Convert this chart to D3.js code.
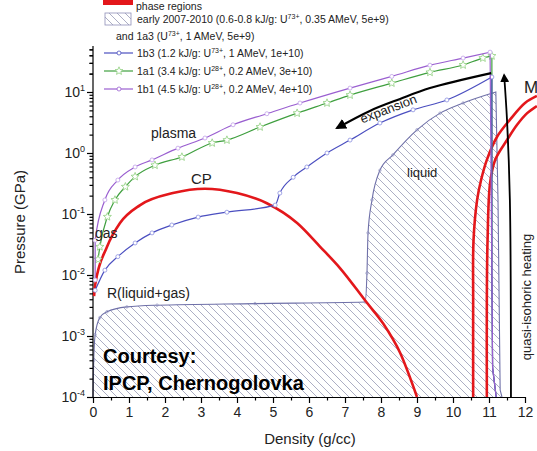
<!DOCTYPE html>
<html lang="en">
<head>
<meta charset="UTF-8">
<script src="https://d3js.org/d3.v7.min.js"></script>
<title>Phase diagram</title>
<style>
    body { margin: 0; background: #fff; }
    svg { font-family: "Liberation Sans", Arial, sans-serif; }
    .axis path, .axis line { stroke: #000; stroke-width: 1.2px; }
    .axis text { font-size: 14px; fill: #222; }
</style>
</head>
<body>
<svg width="537" height="451"></svg>
<script>
// density (g/cc), pressure (GPa)
var xTicks = [0,1,2,3,4,5,6,7,8,9,10,11,12];
var yDecades = [-4,-3,-2,-1,0,1];

var run1b1 = [[0.06,0.0083],[0.06,0.037],[0.33,0.17],[0.69,0.36],[1.17,0.59],[1.64,0.77],[2.36,1.2],[3.11,1.76],
    [3.89,2.9],[4.83,4.4],[5.75,6.6],[7.14,11.6],[8.3,18],[9.36,27.5],[10.28,36],[11.03,45]];
var run1a1 = [[0.14,0.018],[0.19,0.029],[0.4,0.09],[0.61,0.17],[0.9,0.28],[1.17,0.41],[1.72,0.63],[2.47,0.86],[3.31,1.46],
    [3.72,1.63],[4.64,2.67],[5.67,4.5],[6.5,6.6],[7.14,8.9],[8.3,14],[9.36,21],[10.28,27.7],[10.83,36],[11.08,39]];
var run1b3 = [[0.06,0.0056],[0.33,0.012],[0.69,0.02],[1.17,0.0335],[1.64,0.049],[2.19,0.066],[2.92,0.089],[3.72,0.107],
    [5.06,0.14],[5.19,0.22],[5.56,0.4],[5.94,0.59],[6.5,1.0],[7.14,1.63],[7.97,3.1],[8.89,5.1],[9.83,7.4],[11.08,17.6]];
var dropX = [11.08, 11.1, 11.2];
var dropY = [0.01, 0.0003, 1e-4];

var cpDome = [[0.03,0.0045],[0.06,0.0069],[0.39,0.029],[0.75,0.071],[1.31,0.14],[2.22,0.22],[3.11,0.26],[4.0,0.22],
    [4.83,0.15],[5.67,0.071],[6.31,0.029],[6.86,0.013],[7.61,0.0035],[8.06,0.0016],[8.53,0.00053],[9.0,0.0001]];
var melt1 = [[10.56,0.0001],[10.56,0.0039],[10.57,0.037],[10.67,0.17],[10.78,0.36],[10.94,0.77],[11.22,1.83],[11.58,3.5],[12.0,6.6],[12.33,8.6]];
var melt2 = [[10.94,0.0001],[10.94,0.0039],[10.96,0.037],[11.03,0.32],[11.17,0.77],[11.5,1.63],[11.78,2.9],[12.06,4.5],[12.33,5.9]];

var regionTop = [[0,0.0001],[0.02,0.0004],[0.06,0.00105],[0.19,0.002],[0.39,0.0025],[0.94,0.003],[1.78,0.0032],[4.5,0.0034],[7.56,0.0036],
    [7.61,0.0107],[7.64,0.049],[7.75,0.17],[7.97,0.52],[8.33,0.93],[9.0,2.4],[9.64,4.5],[10.28,6.6],[11.19,10]];
var regionRight = [[11.19,10],[11.25,0.17],[11.31,0.00013],[11.36,0.0001]];

var expansion = [[11.06,20.4],[9.36,11.6],[8.53,7.7],[7.69,4.9],[6.78,2.57]];
var heating = [[11.61,0.0001],[11.58,0.17],[11.5,3.5],[11.42,19]];

var legendItems = [
    {key: "1b3", text: ["1b3 (1.2 kJ/g: U", "73+", ", 1 AMeV, 1e+10)"], color: "#4b4fc0", mark: "circle"},
    {key: "1a1", text: ["1a1 (3.4 kJ/g: U", "28+", ",  0.2 AMeV, 3e+10)"], color: "#3f9f3f", mark: "star"},
    {key: "1b1", text: ["1b1 (4.5 kJ/g: U", "28+", ", 0.2 AMeV, 4e+10)"], color: "#9a5fd0", mark: "circle"}
];

var svg = d3.select("svg");
var x = d3.scaleLinear().domain([0, 12]).range([93, 525]);
var y = d3.scaleLog().domain([1e-4, Math.pow(10, 1.754)]).range([397, 46]);

var defs = svg.append("defs");
var pat = defs.append("pattern").attr("id", "hatch").attr("patternUnits", "userSpaceOnUse")
    .attr("width", 8).attr("height", 8);
pat.append("path").attr("d", "M0,0 L8,8 M-4,4 L4,12 M4,-4 L12,4")
    .attr("stroke", "#a3a5bd").attr("stroke-width", 0.9);
defs.append("marker").attr("id", "arrow").attr("viewBox", "0 0 10 10").attr("refX", 8).attr("refY", 5)
    .attr("markerWidth", 5).attr("markerHeight", 5).attr("orient", "auto-start-reverse")
    .append("path").attr("d", "M0,0 L10,5 L0,10 z").attr("fill", "#000");

var smooth = d3.line().x(d => x(d[0])).y(d => y(d[1])).curve(d3.curveCatmullRom.alpha(0.5));
var mono = d3.line().x(d => x(d[0])).y(d => y(d[1])).curve(d3.curveMonotoneX);
var straight = d3.line().x(d => x(d[0])).y(d => y(d[1]));

// hatched region
var regionD = mono(regionTop) + straight(regionRight.concat([[0, 0.0001]])).replace("M", "L");
svg.append("path").attr("d", regionD + "Z").attr("fill", "url(#hatch)").attr("stroke", "none");
svg.append("path").attr("d", mono(regionTop) + straight(regionRight).replace("M", "L"))
    .attr("fill", "none").attr("stroke", "#6f70a8").attr("stroke-width", 1.1);
svg.selectAll(".regdot").data(regionTop.slice(1, -1)).enter().append("circle")
    .attr("cx", d => x(d[0])).attr("cy", d => y(d[1])).attr("r", 1.3)
    .attr("fill", "none").attr("stroke", "#8f90c0").attr("stroke-width", 0.6);

// axes
var yTicks = [];
yDecades.forEach(function (e) {
    for (var m = 1; m <= 9; m++) {
        var v = m * Math.pow(10, e);
        if (v <= y.domain()[1]) yTicks.push(v);
    }
});
yTicks.push(2e1, 3e1, 4e1, 5e1);
var yAxis = svg.append("g").attr("class", "axis").attr("transform", "translate(93,0)")
    .call(d3.axisLeft(y).tickValues(yTicks).tickFormat("").tickSizeOuter(0));
yAxis.selectAll(".tick line").attr("x2", d => Math.abs(Math.log10(d) - Math.round(Math.log10(d))) < 1e-6 ? -6 : -3.5);
yAxis.select(".domain").attr("d", "M0," + y(1e-4) + "V46");

var xMinor = d3.range(0, 12.01, 0.5);
var xAxis = svg.append("g").attr("class", "axis").attr("transform", "translate(0,397)")
    .call(d3.axisBottom(x).tickValues(xMinor).tickFormat(d => Number.isInteger(d) ? d : "").tickSizeOuter(0));
xAxis.selectAll(".tick line").attr("y2", d => Number.isInteger(d) ? 6 : 3.5);
xAxis.selectAll(".tick text").attr("dy", "0.95em").attr("y", 7);

yDecades.forEach(function (e) {
    var t = svg.append("text").attr("x", 85).attr("y", y(Math.pow(10, e)) + 5)
        .attr("text-anchor", "end").attr("font-size", 14).attr("fill", "#222");
    t.append("tspan").text("10");
    t.append("tspan").attr("dy", -6).attr("font-size", 9).text(e);
});

svg.append("text").attr("transform", "translate(25,222) rotate(-90)").attr("text-anchor", "middle")
    .attr("font-size", 15).attr("fill", "#222").text("Pressure (GPa)");
svg.append("text").attr("x", 310).attr("y", 444).attr("text-anchor", "middle")
    .attr("font-size", 15).attr("fill", "#222").text("Density (g/cc)");

// red phase lines
svg.append("path").attr("d", mono(cpDome)).attr("fill", "none")
    .attr("stroke", "#e3171b").attr("stroke-width", 2.6);
[melt1, melt2].forEach(function (c) {
    svg.append("path").attr("d", smooth(c)).attr("fill", "none")
        .attr("stroke", "#e3171b").attr("stroke-width", 2.6);
});

// runs
function star(cx, cy, r) {
    var p = [];
    for (var i = 0; i < 10; i++) {
        var a = -Math.PI / 2 + i * Math.PI / 5, rr = i % 2 ? r * 0.45 : r;
        p.push([cx + rr * Math.cos(a), cy + rr * Math.sin(a)]);
    }
    return "M" + p.join("L") + "Z";
}
function drawRun(data, color, mark, light) {
    var last = data[data.length - 1];
    var drop = [last].concat(dropX.map((v, i) => [v, dropY[i]]));
    svg.append("path").attr("d", mono(data) + straight(drop).replace("M", "L")).attr("fill", "none")
        .attr("stroke", color).attr("stroke-width", 1.2);
    var g = svg.append("g");
    data.forEach(function (d) {
        if (mark === "star") {
            g.append("path").attr("d", star(x(d[0]), y(d[1]), 4.2))
                .attr("fill", "#fff").attr("stroke", light).attr("stroke-width", 0.8);
        } else {
            g.append("circle").attr("cx", x(d[0])).attr("cy", y(d[1])).attr("r", 2)
                .attr("fill", "#fff").attr("stroke", light).attr("stroke-width", 0.8);
        }
    });
}
drawRun(run1a1, "#3f9f3f", "star", "#8fcf7f");
drawRun(run1b3, "#4b4fc0", "circle", "#8a8fe0");
drawRun(run1b1, "#9a5fd0", "circle", "#c0a0e8");

// arrows
svg.append("path").attr("d", smooth(expansion)).attr("fill", "none").attr("stroke", "#000")
    .attr("stroke-width", 2.2).attr("marker-end", "url(#arrow)");
svg.append("path").attr("d", smooth(heating)).attr("fill", "none").attr("stroke", "#000")
    .attr("stroke-width", 1.8).attr("marker-end", "url(#arrow)");

// labels
function label(t, px, py, size, extra) {
    var e = svg.append("text").attr("x", px).attr("y", py).attr("font-size", size).attr("fill", "#222").text(t);
    if (extra) extra(e);
    return e;
}
label("plasma", 151, 138, 14);
label("CP", 191, 184, 15);
label("gas", 95, 238, 14);
label("R(liquid+gas)", 107, 298, 14);
label("liquid", 407, 177, 13);
label("M", 524, 93, 17);
label("expansion", 390, 113, 13, e => e.attr("text-anchor", "middle").attr("transform", "rotate(-21,390,113)"));
svg.append("text").attr("transform", "translate(531,297) rotate(-90)").attr("text-anchor", "middle")
    .attr("font-size", 13).attr("fill", "#222").text("quasi-isohoric heating");
label("Courtesy:", 103, 363, 20, e => e.attr("font-weight", "bold").attr("fill", "#000"));
label("IPCP, Chernogolovka", 103, 390, 20, e => e.attr("font-weight", "bold").attr("fill", "#000"));

// legend
var lg = svg.append("g").attr("font-size", 10.5).attr("fill", "#222");
lg.append("rect").attr("x", 103).attr("y", -1).attr("width", 30).attr("height", 6).attr("fill", "#e3171b");
lg.append("text").attr("x", 136).attr("y", 10).text("phase regions");
lg.append("rect").attr("x", 105).attr("y", 13).attr("width", 26).attr("height", 12)
    .attr("fill", "url(#hatch)").attr("stroke", "#8f90b8").attr("stroke-width", 0.8);
var t1 = lg.append("text").attr("x", 137).attr("y", 23);
t1.append("tspan").text("early 2007-2010 (0.6-0.8 kJ/g: U");
t1.append("tspan").attr("dy", -4).attr("font-size", 7).text("73+");
t1.append("tspan").attr("dy", 4).text(", 0.35 AMeV, 5e+9)");
var t2 = lg.append("text").attr("x", 116).attr("y", 40);
t2.append("tspan").text("and 1a3 (U");
t2.append("tspan").attr("dy", -4).attr("font-size", 7).text("73+");
t2.append("tspan").attr("dy", 4).text(", 1 AMeV, 5e+9)");

legendItems.forEach(function (it, i) {
    var ly = 53 + i * 18;
    lg.append("line").attr("x1", 104).attr("x2", 133).attr("y1", ly).attr("y2", ly)
        .attr("stroke", it.color).attr("stroke-width", 1.2);
    if (it.mark === "star") {
        lg.append("path").attr("d", star(119, ly, 4.2)).attr("fill", "#fff").attr("stroke", "#8fcf7f").attr("stroke-width", 0.8);
    } else {
        lg.append("circle").attr("cx", 119).attr("cy", ly).attr("r", 2).attr("fill", "#fff")
            .attr("stroke", it.color).attr("stroke-width", 0.8);
    }
    var t = lg.append("text").attr("x", 137).attr("y", ly + 4);
    t.append("tspan").text(it.text[0]);
    t.append("tspan").attr("dy", -4).attr("font-size", 7).text(it.text[1]);
    t.append("tspan").attr("dy", 4).text(it.text[2]);
});
</script>
</body>
</html>
